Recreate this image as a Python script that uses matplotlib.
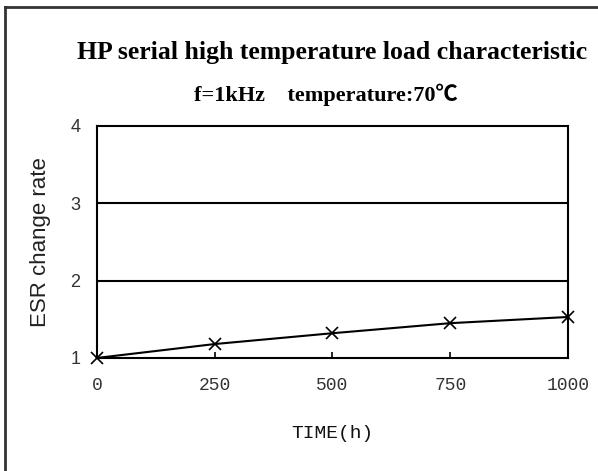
import numpy as np
from matplotlib import pyplot as plt
from matplotlib.lines import Line2D

# values
hours = [0, 250, 500, 750, 1000]
esr_rate = [1.0, 1.18, 1.32, 1.45, 1.53]
x_ticks = [0, 250, 500, 750, 1000]
y_ticks = [1, 2, 3, 4]

fig = plt.figure(figsize=(5.98, 4.71), dpi=100)
ax = fig.add_axes([0.162, 0.240, 0.788, 0.4925])

ax.plot(hours, esr_rate, color='black', lw=1.5, marker='x', ms=8, mew=1.2,
        clip_on=False, zorder=3)

ax.set_xlim(0, 1000)
ax.set_ylim(1, 4)
ax.set_xticks(x_ticks)
ax.set_yticks(y_ticks)
for y in [2, 3]:
    ax.axhline(y, color='black', lw=1.5, zorder=0)
for s in ax.spines.values():
    s.set_linewidth(1.5)
    s.set_color('black')

ax.tick_params(axis='x', direction='in', length=4, width=1.2, pad=14,
               labelsize=13, labelcolor='#333333')
ax.tick_params(axis='y', length=0, pad=12, labelsize=13, labelcolor='#333333')
for lab in ax.get_xticklabels():
    lab.set_family('Liberation Mono')
for lab in ax.get_yticklabels():
    lab.set_family('Liberation Sans')

ax.set_ylabel('ESR change rate', family='Liberation Sans', fontsize=16,
              color='#222222', labelpad=14)
ax.set_xlabel('TIME(h)', family='Liberation Mono', fontsize=14,
              color='#111111', labelpad=22)

fig.text(0.555, 0.875, 'HP serial high temperature load characteristic',
         ha='center', va='baseline', family='Liberation Serif',
         fontweight='bold', fontsize=18.5)
fig.text(0.545, 0.785, 'f=1kHz    temperature:70\u2103',
         ha='center', va='baseline',
         family=['Liberation Serif', 'Noto Sans CJK SC'],
         fontweight='bold', fontsize=16)

# outer frame (left and top only, as in the reference)
fig.add_artist(Line2D([4.5 / 598, 4.5 / 598], [0, 1 - 7 / 471], color='#333333', lw=2,
                      transform=fig.transFigure))
fig.add_artist(Line2D([4.5 / 598, 1], [1 - 7 / 471, 1 - 7 / 471], color='#333333', lw=2,
                      transform=fig.transFigure))

fig.savefig('out.png', dpi=100)
